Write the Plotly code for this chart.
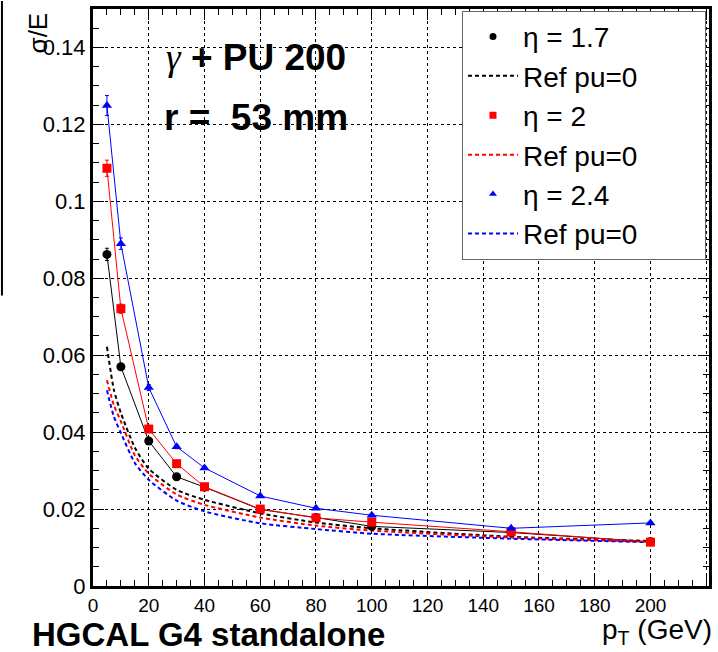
import plotly.graph_objects as go

pt = [5, 10, 20, 30, 40, 60, 80, 100, 150, 200]
eta17 = [0.0862, 0.0570, 0.0377, 0.0284, 0.0257, 0.0199, 0.0178, 0.0155, 0.0139, 0.0115]
eta17_err = [0.0016, 0.0008, 0.0005, 0.0004, 0.0004, 0.0003, 0.0003, 0.0003, 0.0003, 0.0003]
eta20 = [0.1086, 0.0721, 0.0408, 0.0318, 0.0258, 0.0200, 0.0177, 0.0166, 0.0141, 0.0114]
eta20_err = [0.0021, 0.0012, 0.0006, 0.0005, 0.0004, 0.0003, 0.0003, 0.0003, 0.0003, 0.0003]
eta24 = [0.1249, 0.0890, 0.0516, 0.0362, 0.0307, 0.0234, 0.0202, 0.0184, 0.0150, 0.0164]
eta24_err = [0.0026, 0.0015, 0.0008, 0.0005, 0.0004, 0.0003, 0.0003, 0.0003, 0.0003, 0.0003]

pt_ref = [5, 7.5, 10, 15, 20, 30, 40, 60, 80, 100, 150, 200]
ref17 = [0.0622, 0.0510, 0.0450, 0.0360, 0.0305, 0.0250, 0.0224, 0.0189, 0.0165, 0.0150, 0.0128, 0.0117]
ref20 = [0.0535, 0.0470, 0.0428, 0.0340, 0.0292, 0.0238, 0.0211, 0.0178, 0.0157, 0.0144, 0.0126, 0.0115]
ref24 = [0.0509, 0.0440, 0.0398, 0.0320, 0.0276, 0.0222, 0.0194, 0.0163, 0.0148, 0.0136, 0.0123, 0.0114]

legend_labels = ["\u03b7 = 1.7", "Ref pu=0", "\u03b7 = 2", "Ref pu=0", "\u03b7 = 2.4", "Ref pu=0"]

FONT = "Liberation Sans, Arial, Helvetica, sans-serif"
DASH = "4px,3px"
PAD = "\u00a0" * 8

fig = go.Figure()

series = [
    (eta17, eta17_err, ref17, "black", "circle", 9),
    (eta20, eta20_err, ref20, "#ff0000", "square", 9),
    (eta24, eta24_err, ref24, "#0000ff", "triangle-up", 9),
]

for vals, errs, ref, col, sym, msz in series:
    fig.add_trace(go.Scatter(
        x=pt_ref, y=ref, mode="lines",
        line=dict(color=col, width=2, dash=DASH, shape="spline", smoothing=0.6),
        showlegend=False, hoverinfo="skip"))

for vals, errs, ref, col, sym, msz in series:
    fig.add_trace(go.Scatter(
        x=pt, y=vals, mode="lines+markers",
        line=dict(color=col, width=1),
        marker=dict(color=col, symbol=sym, size=msz),
        error_y=dict(type="data", array=errs, color=col, thickness=1, width=2),
        showlegend=False))

# legend entries
for i, (vals, errs, ref, col, sym, msz) in enumerate(series):
    fig.add_trace(go.Scatter(x=[None], y=[None], mode="markers",
                             marker=dict(color=col, symbol=sym, size=7),
                             name=legend_labels[2 * i]))
    fig.add_trace(go.Scatter(x=[None], y=[None], mode="lines",
                             line=dict(color=col, width=2, dash=DASH),
                             name=legend_labels[2 * i + 1] + PAD))

axis_common = dict(
    showline=True, linecolor="black", linewidth=3, mirror="allticks",
    ticks="inside", ticklen=11, tickwidth=1, tickcolor="black",
    showgrid=True, gridcolor="black", gridwidth=1, griddash="dot",
    zeroline=False,
    minor=dict(ticks="inside", ticklen=6, tickwidth=1, tickcolor="black", showgrid=False),
)

fig.update_xaxes(range=[0, 221], dtick=20, tick0=0, minor_dtick=5,
                 tickfont=dict(family=FONT, size=19, color="black"), **axis_common)
fig.update_yaxes(range=[0, 0.15], dtick=0.02, tick0=0, minor_dtick=0.005,
                 tickfont=dict(family=FONT, size=22, color="black"), **axis_common)

fig.update_layout(
    width=718, height=652,
    margin=dict(l=93, r=6, t=8, b=66),
    paper_bgcolor="white", plot_bgcolor="white",
    font=dict(family=FONT, color="black"),
    showlegend=True,
    legend=dict(
        x=0.599, y=0.997, xanchor="left", yanchor="top",
        bgcolor="white", bordercolor="#666666", borderwidth=1,
        font=dict(family=FONT, size=28, color="black"),
        itemwidth=50, tracegroupgap=0, traceorder="normal",
    ),
)

annotations = [
    dict(text="<span style='font-family:Liberation Serif;font-weight:normal'><i>\u03b3</i></span> <b>+ PU 200</b>",
         x=0.115, y=0.916, xref="paper", yref="paper", xanchor="left", yanchor="middle",
         showarrow=False, font=dict(family=FONT, size=37, color="black")),
    dict(text="<b>r =&nbsp; 53 mm</b>",
         x=0.112, y=0.812, xref="paper", yref="paper", xanchor="left", yanchor="middle",
         showarrow=False, font=dict(family=FONT, size=37, color="black")),
    dict(text="<b>HGCAL G4 standalone</b>",
         x=-0.102, y=-0.084, xref="paper", yref="paper", xanchor="left", yanchor="middle",
         showarrow=False, font=dict(family=FONT, size=33, color="black")),
    dict(text="p<sub>T</sub> (GeV)",
         x=1.0, y=-0.078, xref="paper", yref="paper", xanchor="right", yanchor="middle",
         xshift=5, showarrow=False, font=dict(family=FONT, size=28, color="black")),
    dict(text="\u03c3/E", textangle=-90,
         x=-0.089, y=0.997, xref="paper", yref="paper", xanchor="center", yanchor="top",
         showarrow=False, font=dict(family=FONT, size=26, color="black")),
]
fig.update_layout(annotations=annotations)

fig.add_shape(type="line", xref="paper", yref="paper",
              x0=-0.1478, x1=-0.1478, y0=1.014, y1=0.5035,
              line=dict(color="black", width=2))

fig.write_html("out.html", config={"displayModeBar": False},
               post_script="document.body.style.margin='0';document.body.style.padding='0';")
